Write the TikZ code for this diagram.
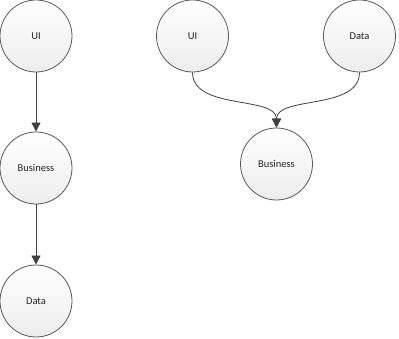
\documentclass[tikz,border=0pt]{standalone}
\usepackage{fontspec}
\setmainfont{Carlito}
\usetikzlibrary{arrows.meta}
\begin{document}
\begin{tikzpicture}[x=1pt,y=-1pt,
  layer/.style={circle,draw=black!65,line width=0.8pt,minimum size=72pt,inner sep=0pt,
    top color=white,bottom color=black!7,font=\fontsize{10.5}{12}\selectfont,text=black!85},
  link/.style={draw=black!75,line width=0.8pt,-{Triangle[length=9pt,width=9pt]}}]
\useasboundingbox (0,0) rectangle (399,339);
\node[layer] (ui1) at (36,36) {UI};
\node[layer] (bus1) at (36,168) {Business};
\node[layer] (data1) at (36,301) {Data};
\node[layer] (ui2) at (192.5,36) {UI};
\node[layer] (data2) at (359.5,36) {Data};
\node[layer] (bus2) at (276.5,164) {Business};
\draw[link] (ui2.south) .. controls +(0,38) and +(0,-32) .. (bus2.north);
\draw[link] (data2.south) .. controls +(0,38) and +(0,-32) .. (bus2.north);
\draw[link] (ui1) -- (bus1);
\draw[link] (bus1) -- (data1);
\end{tikzpicture}
\end{document}
